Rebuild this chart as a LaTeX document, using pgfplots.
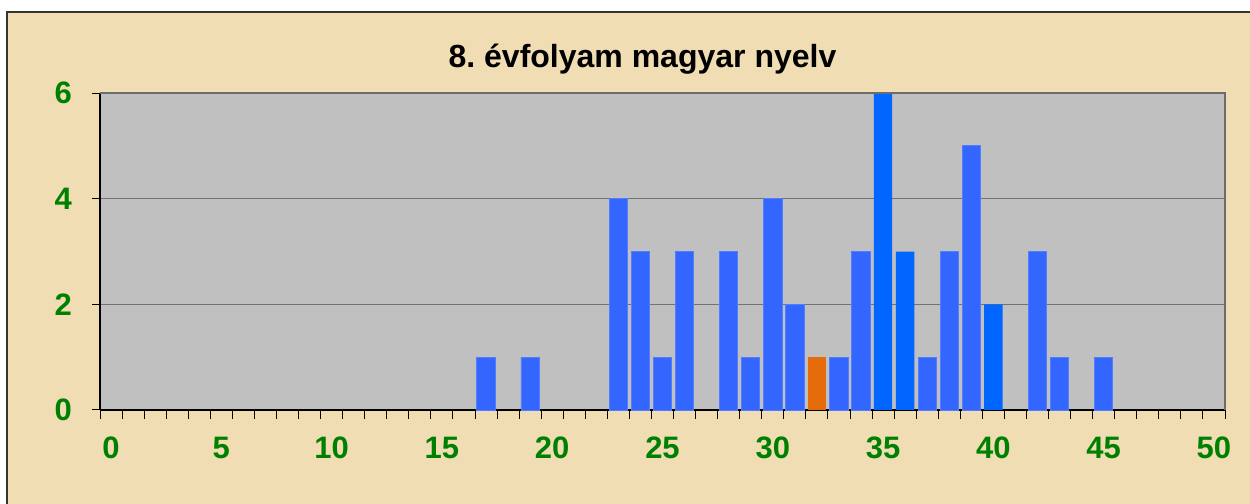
\documentclass[border=0pt]{standalone}
\usepackage{fontspec}
\setmainfont{Liberation Sans}
\usepackage{pgfplots}
\pgfplotsset{compat=1.18}
\definecolor{parch}{HTML}{F0DDB4}
\definecolor{plotgray}{HTML}{C0C0C0}
\definecolor{barblue}{HTML}{3366FF}
\definecolor{barbright}{HTML}{0066FF}
\definecolor{barorange}{HTML}{E46C0A}
\definecolor{tickgreen}{HTML}{008000}
\definecolor{framec}{HTML}{333333}
\begin{document}
\frenchspacing
\begin{tikzpicture}
\useasboundingbox (0,0) rectangle (625pt,252pt);
\fill[white] (0,0) rectangle (625pt,252pt);
\fill[parch] (3.5pt,0) rectangle (625pt,246pt);
\draw[framec, line width=0.8pt] (3.5pt,0) -- (3.5pt,246pt) -- (625pt,246pt);
\begin{axis}[
  at={(50pt,47pt)}, anchor=south west,
  scale only axis, width=562.5pt, height=158.5pt,
  xmin=-0.5, xmax=50.5, ymin=0, ymax=6,
  ybar, bar shift=0pt, bar width=0.83,
  axis x line*=bottom, axis y line*=left,
  axis line style={black, line width=0.7pt},
  axis background/.style={fill=plotgray},
  xtick={0,5,...,50},
  minor xtick={-0.5,0.5,...,50.5},
  major x tick style={draw=none},
  minor x tick style={black, line width=0.5pt},
  ytick={0,2,4,6},
  y tick style={black, line width=0.5pt},
  tick align=outside,
  major tick length=4pt, minor tick length=4.5pt,
  ymajorgrids, grid style={draw=gray!90!black, line width=0.5pt},
  /pgf/number format/assume math mode=true,
  ticklabel style={font=\fontsize{15.5}{18}\selectfont\bfseries, text=tickgreen},
  xticklabel style={yshift=-6pt},
  yticklabel style={xshift=-6.5pt},
  clip=false,
]
\addplot[fill=barblue, draw=barblue!85!white, line width=0.4pt] coordinates {
(17,1)(19,1)(23,4)(24,3)(25,1)(26,3)(28,3)(29,1)(30,4)(31,2)(33,1)(34,3)(37,1)(38,3)(39,5)(42,3)(43,1)(45,1)};
\addplot[fill=barbright, draw=none] coordinates {(35,6)(36,3)(40,2)};
\addplot[fill=barorange, draw=none] coordinates {(32,1)};
\draw[gray!85!black, line width=1pt] (rel axis cs:0,1) -- (rel axis cs:1,1) -- (rel axis cs:1,0);
\end{axis}
\node[anchor=base, font=\fontsize{16}{19}\selectfont\bfseries] at (321.25pt,218pt) {8. évfolyam magyar nyelv};
\end{tikzpicture}
\end{document}
